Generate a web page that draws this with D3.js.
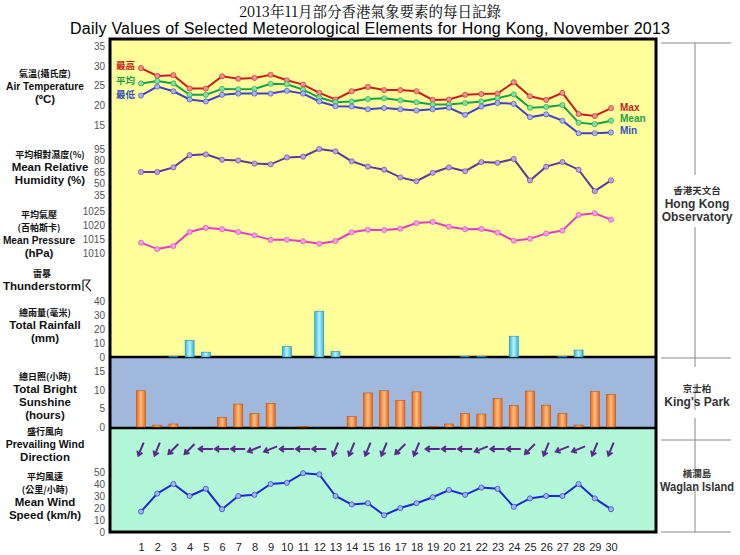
<!DOCTYPE html>
<html><head><meta charset="utf-8">
<script src="https://cdn.jsdelivr.net/npm/d3@7"></script>
<style>body{margin:0;background:#fff}text{font-family:"Liberation Sans",Arial,sans-serif}</style>
</head><body><svg id="c" width="740" height="555"></svg>
<script>
const days = d3.range(1, 31);
const tMax = [29.5,27.5,27.7,24.3,24.3,27.4,26.8,27,27.8,26.4,25.3,23.2,21.5,23.6,24.7,23.9,23.9,23.6,21.4,21.5,22.7,22.9,23,25.9,22.3,21.4,23.2,17.8,17.3,19.3];
const tMean = [25.6,26.2,25.6,22.7,22.7,24.2,24.1,24.2,25.5,25.4,24,22,20.8,21,21.6,21.8,21.3,20.8,20.2,20.2,20.6,21,21.8,22.8,19.4,19.6,20.1,15.6,15.2,16.1];
const tMin = [22.5,24.8,23.6,21.5,21,22.7,23,23,23,23.7,23,21,19.8,19.7,19,19.3,19,18.7,19,19.4,17.6,19.7,20.6,20.4,17,17.7,16.1,12.9,12.9,13.1];
const humidity = [65,65,71,87,88,81,80,76,75,84,85,95,92,79,72,68,58,53,64,71,66,78,77,82,54,72,78,68,40,54];
const pressure = [1013.7,1011.4,1012.5,1017.5,1019,1018.5,1017.5,1016.3,1014.7,1014.7,1014.2,1013.3,1014.3,1017.4,1018.3,1018.2,1018.7,1020.7,1021.1,1019.4,1018.5,1018.6,1017.3,1014.4,1015.1,1017,1018,1023.6,1024.2,1021.9];
const rainfall = [0,0,0.5,12,3.5,0,0,0,0,7.5,0,33,4,0,0,0,0,0,0,0,0.5,0.5,0,15,0,0,0.5,5,0,0];
const sunshine = [9.8,0.5,0.8,0,0,2.6,6.2,3.6,6.4,0,0.1,0,0,2.8,9.2,9.8,7.2,9.5,0.1,0.8,3.6,3.5,7.7,5.8,9.7,5.9,3.6,0.5,9.6,8.8];
// wind direction (degrees, direction wind blows from)
const windDir = [22,22,45,45,90,90,90,68,68,90,90,90,22,22,22,22,45,22,90,90,90,68,90,90,45,22,68,68,22,22];
const windSpeed = [17,32,40,30,36,19,30,31,40,41,49,48,30,23,24,14,20,24,29,35,31,37,36,21,28,30,30,40,28,19];
const tempTicks = [15,20,25,30,35], rhTicks = [35,50,65,80,95], pTicks = [1010,1015,1020,1025];
const rainTicks = [0,10,20,30,40], sunTicks = [0,5,10,15], windTicks = [0,10,20,30,40,50];

const svg = d3.select("#c");
const L = 110, R = 656;
const x = d3.scaleLinear().domain([1, 30]).range([141, 611]);
const yT = d3.scaleLinear().domain([15, 35]).range([125, 46.5]);
const yH = d3.scaleLinear().domain([35, 95]).range([195, 149]);
const yP = d3.scaleLinear().domain([1010, 1025]).range([253, 211]);
const yR = d3.scaleLinear().domain([0, 40]).range([357, 301.5]);
const yS = d3.scaleLinear().domain([0, 15]).range([427, 371.5]);
const yW = d3.scaleLinear().domain([0, 50]).range([532, 472]);

const defs = svg.append("defs");
function grad(id, c1, c2) {
  const g = defs.append("linearGradient").attr("id", id);
  g.append("stop").attr("offset", "0").attr("stop-color", c2);
  g.append("stop").attr("offset", "0.5").attr("stop-color", c1);
  g.append("stop").attr("offset", "1").attr("stop-color", c2);
}
grad("gr", "#bff0ff", "#2cb6e0");
grad("gs", "#ffc080", "#e8661a");

// panels
svg.append("rect").attr("x", L).attr("y", 39).attr("width", R - L).attr("height", 318).attr("fill", "#ffff9c");
svg.append("rect").attr("x", L).attr("y", 357).attr("width", R - L).attr("height", 71).attr("fill", "#a0b8dc");
svg.append("rect").attr("x", L).attr("y", 428).attr("width", R - L).attr("height", 104).attr("fill", "#b2f7d8");
[357, 428].forEach(y => svg.append("line").attr("x1", L).attr("x2", R).attr("y1", y).attr("y2", y).attr("stroke", "#000").attr("stroke-width", 2.5));
svg.append("rect").attr("x", L).attr("y", 39).attr("width", R - L).attr("height", 493).attr("fill", "none").attr("stroke", "#000").attr("stroke-width", 3);

// titles
svg.append("text").attr("x", 370).attr("y", 17).attr("text-anchor", "middle").attr("font-size", 14.5)
  .style("font-family", "'Noto Serif CJK TC','Noto Sans CJK TC',serif").text("2013年11月部分香港氣象要素的每日記錄");
svg.append("text").attr("x", 370).attr("y", 34).attr("text-anchor", "middle").attr("font-size", 16)
  .attr("textLength", 600).text("Daily Values of Selected Meteorological Elements for Hong Kong, November 2013");

// axes
function axis(scale, ticks) {
  const g = svg.append("g").attr("transform", `translate(${L - 4},0)`)
    .call(d3.axisLeft(scale).tickValues(ticks).tickFormat(d3.format("d")).tickSize(0).tickPadding(1));
  g.select(".domain").remove();
  g.selectAll("text").attr("font-size", 10).attr("fill", "#555");
}
axis(yT, tempTicks); axis(yH, rhTicks); axis(yP, pTicks); axis(yR, rainTicks); axis(yS, sunTicks); axis(yW, windTicks);
const xa = svg.append("g").attr("transform", "translate(0,540)").call(d3.axisBottom(x).tickValues(days).tickSize(0));
xa.select(".domain").remove();
xa.selectAll("text").attr("font-size", 11).attr("fill", "#222");

// left labels (squeezed like a condensed face)
function label(y, lines, cx, maxW) {
  lines.forEach((l, i) => {
    const cjk = /[\u4e00-\u9fff]/.test(l);
    const t = svg.append("text").attr("x", cx).attr("y", y + i * 13).attr("text-anchor", "middle")
      .attr("font-size", cjk ? 9 : 11.5).attr("font-weight", "bold").attr("fill", "#111")
      .style("font-family", cjk ? "'Noto Sans CJK TC',sans-serif" : null).text(l);
    const w = t.node().getComputedTextLength();
    const lim = maxW * (cjk ? 1 : 0.82);
    if (w > lim) t.attr("textLength", lim).attr("lengthAdjust", "spacingAndGlyphs");
  });
}
label(77, ["氣溫(攝氏度)", "Air Temperature", "(ºC)"], 45, 95);
label(158, ["平均相對濕度(%)", "Mean Relative", "Humidity (%)"], 50, 100);
label(218, ["平均氣壓", "(百帕斯卡)", "Mean Pressure", "(hPa)"], 39, 88);
label(277, ["雷暴", "Thunderstorm"], 42, 96);
label(316, ["總雨量(毫米)", "Total Rainfall", "(mm)"], 45, 96);
label(380, ["總日照(小時)", "Total Bright", "Sunshine", "(hours)"], 45, 96);
label(435, ["盛行風向", "Prevailing Wind", "Direction"], 45, 96);
label(480, ["平均風速", "(公里/小時)", "Mean Wind", "Speed (km/h)"], 45, 96);
svg.append("path").attr("d", "M83,280 V291 M83,280 H90 L86,286 L91,291").attr("fill", "none").attr("stroke", "#222").attr("stroke-width", 1.2);

// bars
function bars(data, y, fill, stroke) {
  svg.append("g").selectAll("rect").data(data.map((v, i) => [i + 1, v])).join("rect")
    .attr("x", d => x(d[0]) - 4.5).attr("width", 9)
    .attr("y", d => y(d[1])).attr("height", d => y(0) - y(d[1]))
    .attr("fill", fill).attr("stroke", stroke).attr("stroke-width", 0.6);
}
bars(rainfall, yR, "url(#gr)", "#1a8fb8");
bars(sunshine, yS, "url(#gs)", "#c0500e");

// lines
function series(data, y, col, dot) {
  const pts = data.map((v, i) => [x(i + 1), y(v)]);
  svg.append("path").attr("d", d3.line()(pts)).attr("fill", "none").attr("stroke", col).attr("stroke-width", 2);
  svg.append("g").selectAll("circle").data(pts).join("circle")
    .attr("cx", d => d[0]).attr("cy", d => d[1]).attr("r", 2.6).attr("fill", dot).attr("stroke", col).attr("stroke-width", 0.6);
}
series(tMax, yT, "#c81e1e", "#f09090");
series(tMean, yT, "#18a048", "#80e0a0");
series(tMin, yT, "#4040c8", "#a8b4f0");
series(humidity, yH, "#5a3c96", "#c0a0e8");
series(pressure, yP, "#e040c0", "#f0a0e8");
series(windSpeed, yW, "#1e28d2", "#a0b4f0");

// temp legends
[["最高", 69, "#c81e1e"], ["平均", 84, "#18a048"], ["最低", 98, "#3050c0"]].forEach(d =>
  svg.append("text").attr("x", 116).attr("y", d[1]).attr("font-size", 9.5).attr("font-weight", "bold").attr("fill", d[2])
    .style("font-family", "'Noto Sans CJK TC',sans-serif").text(d[0]));
[["Max", 111, "#c81e1e"], ["Mean", 122, "#18a048"], ["Min", 134, "#3050c0"]].forEach(d =>
  svg.append("text").attr("x", 620).attr("y", d[1]).attr("font-size", 10).attr("font-weight", "bold").attr("fill", d[2]).text(d[0]));

// wind arrows
const ag = svg.append("g");
windDir.forEach((deg, i) => {
  const a = (deg + 180) * Math.PI / 180; // direction of travel
  const dx = Math.sin(a), dy = -Math.cos(a), len = 7;
  const cx = x(i + 1), cy = 449;
  const x1 = cx - dx * len, y1 = cy - dy * len, x2 = cx + dx * len, y2 = cy + dy * len;
  const h = 5, s = 0.6;
  const p1 = [x2 - h * (dx * Math.cos(s) - dy * Math.sin(s)), y2 - h * (dy * Math.cos(s) + dx * Math.sin(s))];
  const p2 = [x2 - h * (dx * Math.cos(-s) - dy * Math.sin(-s)), y2 - h * (dy * Math.cos(-s) + dx * Math.sin(-s))];
  ag.append("path").attr("d", `M${x1},${y1}L${x2},${y2}M${p1}L${x2},${y2}L${p2}`)
    .attr("fill", "none").attr("stroke", "#5a2a8a").attr("stroke-width", 2);
});

// right station brackets
const rc = svg.append("g").attr("stroke", "#888").attr("stroke-width", 1);
[43, 358, 440, 532].forEach(y => rc.append("line").attr("x1", 661).attr("x2", 731).attr("y1", y).attr("y2", y));
[[43, 175], [227, 367], [384, 410], [418, 470], [488, 532]].forEach(s => rc.append("line").attr("x1", 695).attr("x2", 695).attr("y1", s[0]).attr("y2", s[1]));
function station(y, zh, en) {
  svg.append("text").attr("x", 697).attr("y", y).attr("text-anchor", "middle").attr("font-size", 9.5).attr("font-weight", "bold").attr("fill", "#333")
    .style("font-family", "'Noto Sans CJK TC',sans-serif").text(zh);
  en.forEach((t, i) => {
    const e = svg.append("text").attr("x", 697).attr("y", y + 14 + i * 13).attr("text-anchor", "middle")
      .attr("font-size", 12).attr("font-weight", "bold").attr("fill", "#333").text(t);
    if (e.node().getComputedTextLength() > 74) e.attr("textLength", 74).attr("lengthAdjust", "spacingAndGlyphs");
  });
}
station(194, "香港天文台", ["Hong Kong", "Observatory"]);
station(392, "京士柏", ["King's Park"]);
station(477, "橫瀾島", ["Waglan Island"]);
</script></body></html>
